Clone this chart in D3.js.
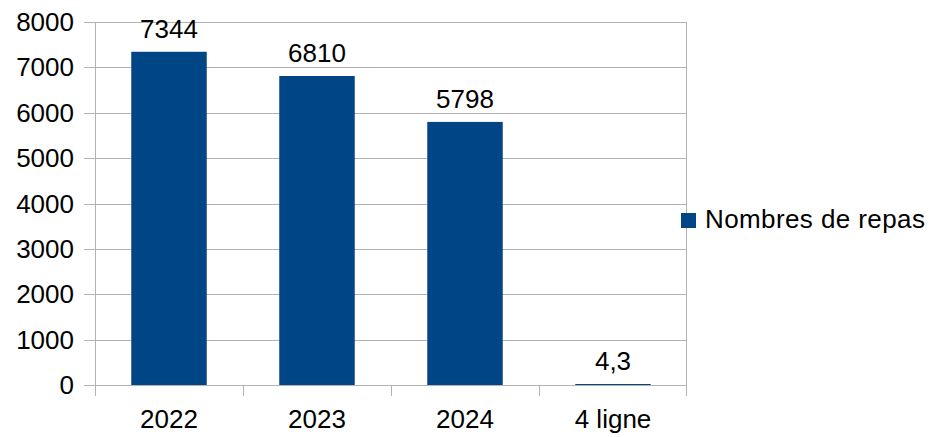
<!DOCTYPE html>
<html><head><meta charset="utf-8">
<script src="https://cdn.jsdelivr.net/npm/d3@7"></script>
<style>body{margin:0;background:#fff}svg{display:block}text{font-family:"Liberation Sans",Arial,sans-serif;fill:#000}</style>
</head><body><svg id="c" width="929" height="437"></svg>
<script>
const categories = ["2022", "2023", "2024", "4 ligne"];
const values = [7344, 6810, 5798, 4.3];
const valueLabels = ["7344", "6810", "5798", "4,3"];
const yTicks = [0, 1000, 2000, 3000, 4000, 5000, 6000, 7000, 8000];
const seriesName = "Nombres de repas";

const svg = d3.select("#c");
const L = 95, R = 687, T = 22, B = 385;
const x = d3.scaleBand().domain(categories).range([L, R]).paddingInner(0.49).paddingOuter(0.245);
const xs = d3.scaleBand().domain(categories).range([L, R]);
const y = d3.scaleLinear().domain([0, 8000]).range([B, T]);
const grid = "#b3b3b3";
const fs = 26;

svg.append("g").selectAll("line").data(yTicks).join("line")
  .attr("x1", L - 11).attr("x2", R).attr("y1", d => Math.round(y(d)) + 0.5).attr("y2", d => Math.round(y(d)) + 0.5)
  .attr("stroke", grid).attr("stroke-width", 1);
svg.append("line").attr("x1", L + 0.5).attr("x2", L + 0.5).attr("y1", T).attr("y2", B + 11).attr("stroke", grid);
svg.append("line").attr("x1", R - 0.5).attr("x2", R - 0.5).attr("y1", T).attr("y2", B + 11).attr("stroke", grid);
svg.append("g").selectAll("line").data(categories.slice(1)).join("line")
  .attr("x1", d => Math.round(xs(d)) + 0.5).attr("x2", d => Math.round(xs(d)) + 0.5)
  .attr("y1", B).attr("y2", B + 11).attr("stroke", grid);

svg.append("g").selectAll("text").data(yTicks).join("text")
  .attr("x", 74).attr("y", d => y(d) + 9).attr("text-anchor", "end").attr("font-size", fs).text(d => d);

const data = categories.map((c, i) => ({c, v: values[i], l: valueLabels[i]}));
svg.append("g").selectAll("rect").data(data).join("rect")
  .attr("x", d => x(d.c)).attr("width", x.bandwidth())
  .attr("y", d => Math.min(y(d.v), B - 1)).attr("height", d => Math.max(B - y(d.v), 1))
  .attr("fill", "#004586");
svg.append("g").selectAll("text").data(data).join("text")
  .attr("x", d => x(d.c) + x.bandwidth() / 2).attr("y", d => Math.min(y(d.v), B - 1) - 14)
  .attr("text-anchor", "middle").attr("font-size", fs).text(d => d.l);
svg.append("g").selectAll("text").data(categories).join("text")
  .attr("x", d => xs(d) + xs.bandwidth() / 2).attr("y", 428)
  .attr("text-anchor", "middle").attr("font-size", fs).text(d => d);

svg.append("rect").attr("x", 681).attr("y", 213).attr("width", 15).attr("height", 15).attr("fill", "#004586");
svg.append("text").attr("x", 705).attr("y", 228).attr("font-size", fs).attr("letter-spacing", 0.4).text(seriesName);
</script></body></html>
